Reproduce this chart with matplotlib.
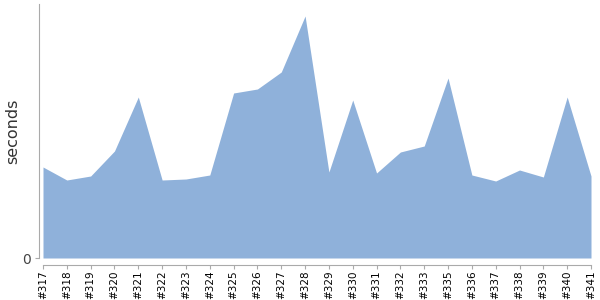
import matplotlib
matplotlib.use("Agg")
import matplotlib.pyplot as plt

# Build numbers and durations (arbitrary units)
builds = ["#317", "#318", "#319", "#320", "#321", "#322", "#323", "#324",
          "#325", "#326", "#327", "#328", "#329", "#330", "#331", "#332",
          "#333", "#335", "#336", "#337", "#338", "#339", "#340", "#341"]
durations = [91, 78, 82, 107, 161, 78, 79, 83,
             165, 169, 186, 242, 86, 158, 85, 106,
             112, 180, 83, 77, 88, 81, 161, 82]

fig = plt.figure(figsize=(6, 3), dpi=100)
ax = fig.add_axes([43 / 600, 42 / 300, 548 / 600, 254 / 300])

xs = range(len(builds))
ax.fill_between(xs, 0, durations, color="#8fb1da", linewidth=0)

ax.set_xlim(0, len(builds) - 1)
ax.set_ylim(0, 254)

# spines first: set_position resets the tick objects
for side in ["top", "right"]:
    ax.spines[side].set_visible(False)
ax.spines["left"].set_position(("outward", 3))
ax.spines["bottom"].set_position(("outward", 5))
ax.spines["left"].set_color("#aaaaaa")
ax.spines["bottom"].set_color("#aaaaaa")

ax.set_xticks(list(xs))
ax.set_xticklabels(builds)
ax.set_yticks([0])
ax.set_yticklabels(["0"])
ax.tick_params(axis="x", colors="#aaaaaa", labelcolor="black", length=3, pad=1,
               labelsize=7.5, labelrotation=90)
ax.tick_params(axis="y", colors="#aaaaaa", labelcolor="#444444", length=3, pad=3,
               labelsize=10)

ax.set_ylabel("seconds", fontsize=11.5, color="#333333")
ax.yaxis.set_label_coords(-0.041, 0.5)

fig.savefig("out.png", dpi=100)
